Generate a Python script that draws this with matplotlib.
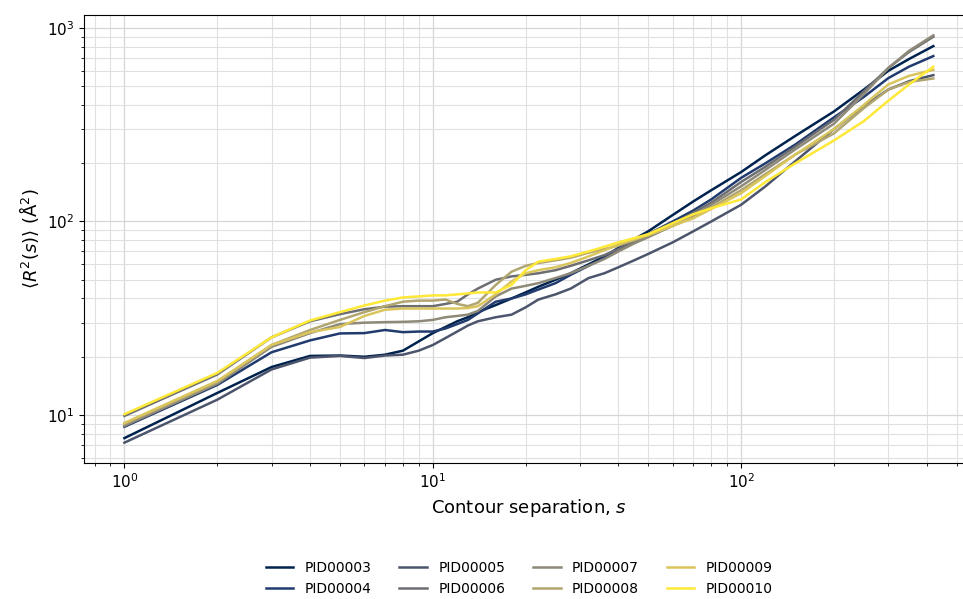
import matplotlib.pyplot as plt
import numpy as np

# contour separations
s = [1, 2, 3, 4, 5, 6, 7, 8, 9, 10, 11, 12, 13, 14, 16, 18, 20, 22, 25, 28,
     32, 36, 40, 45, 50, 60, 70, 80, 100, 120, 150, 200, 250, 300, 350, 420]

pid00003 = [7.6, 13.0, 17.7, 20.2, 20.3, 20.0, 20.5, 21.5, 24, 26.5, 28.5, 30.5, 32, 34, 37, 40, 43, 46, 50, 54,
            60, 66, 73, 81, 89, 108, 127, 145, 180, 220, 277, 370, 480, 600, 690, 805]
pid00004 = [8.7, 14.3, 21.1, 24.3, 26.4, 26.5, 27.5, 26.8, 27, 27, 28, 29.5, 31, 33.5, 38.5, 40, 42, 44.5, 48, 53,
            59, 65, 72, 79, 86, 100, 114, 130, 168, 200, 250, 345, 440, 550, 630, 715]
pid00005 = [7.2, 12.0, 17.2, 19.8, 20.2, 19.7, 20.3, 20.5, 21.5, 23, 25, 27, 29, 30.5, 32, 33, 36, 39.5, 42, 45,
            51, 54, 58, 63, 68, 78, 89, 100, 122, 152, 205, 300, 395, 480, 530, 570]
pid00006 = [9.9, 16.2, 25.2, 30.5, 33.2, 35.2, 36.3, 36.5, 36.5, 36.5, 37.5, 38.5, 42, 45, 50, 52, 53, 54, 56, 59,
            63, 67, 72, 78, 84, 97, 111, 125, 160, 192, 244, 335, 470, 620, 750, 900]
pid00007 = [8.8, 14.5, 22.5, 26.5, 29.5, 30.0, 30.2, 30.3, 30.5, 31, 32, 32.5, 33, 34.5, 41, 45, 46.5, 48, 51, 54,
            59, 64, 70, 77, 83, 95, 107, 122, 152, 185, 236, 320, 455, 620, 760, 915]
pid00008 = [9.0, 14.8, 23.0, 27.5, 31, 34, 36.5, 38.5, 39, 39, 39.5, 37.5, 36.5, 38, 47, 55, 59, 61, 63, 65,
            69, 72, 75, 80, 85, 95, 105, 118, 145, 176, 222, 285, 385, 480, 525, 548]
pid00009 = [9.1, 15.0, 23.0, 26.8, 28.5, 32.5, 35, 35.5, 35.5, 35.5, 35.5, 35.5, 35.7, 36.5, 42, 49, 54, 56, 58, 61,
            66, 71, 76, 81, 85, 95, 104, 116, 140, 172, 222, 300, 400, 510, 565, 607]
pid00010 = [10.1, 16.5, 25.2, 30.8, 34, 36.8, 39, 40.5, 41, 41.5, 41.5, 42, 42.5, 43, 43, 47, 56, 62, 64, 66,
            70, 74, 78, 82, 86, 98, 109, 117, 130, 160, 200, 262, 330, 420, 510, 630]

names = ['PID00003', 'PID00004', 'PID00005', 'PID00006',
         'PID00007', 'PID00008', 'PID00009', 'PID00010']
series = [pid00003, pid00004, pid00005, pid00006,
          pid00007, pid00008, pid00009, pid00010]

colors = plt.cm.cividis(np.linspace(0, 1, len(names)))

fig = plt.figure(figsize=(9.63, 5.99), dpi=100)
# right spine falls just past the figure edge
ax = fig.add_axes([0.0872, 0.227, 0.924, 0.748])

for name, ys, c in zip(names, series, colors):
    ax.plot(s, ys, color=c, linewidth=1.8, label=name)

ax.set_xscale('log')
ax.set_yscale('log')
ax.grid(True, which='major', color='#d6d6d6', linewidth=0.9)
ax.grid(True, which='minor', color='#e0e0e0', linewidth=0.8)
ax.set_axisbelow(True)
ax.tick_params(labelsize=11)

ax.set_xlabel('Contour separation, $s$', fontsize=13)
ax.set_ylabel(r'$\langle R^2(s) \rangle$ ($\mathrm{\AA}^2$)', fontsize=13)

ax.legend(loc='upper center', bbox_to_anchor=(0.489, -0.19), ncol=4,
          frameon=False, fontsize=10, columnspacing=2.0)

fig.savefig('out.png', dpi=100)
